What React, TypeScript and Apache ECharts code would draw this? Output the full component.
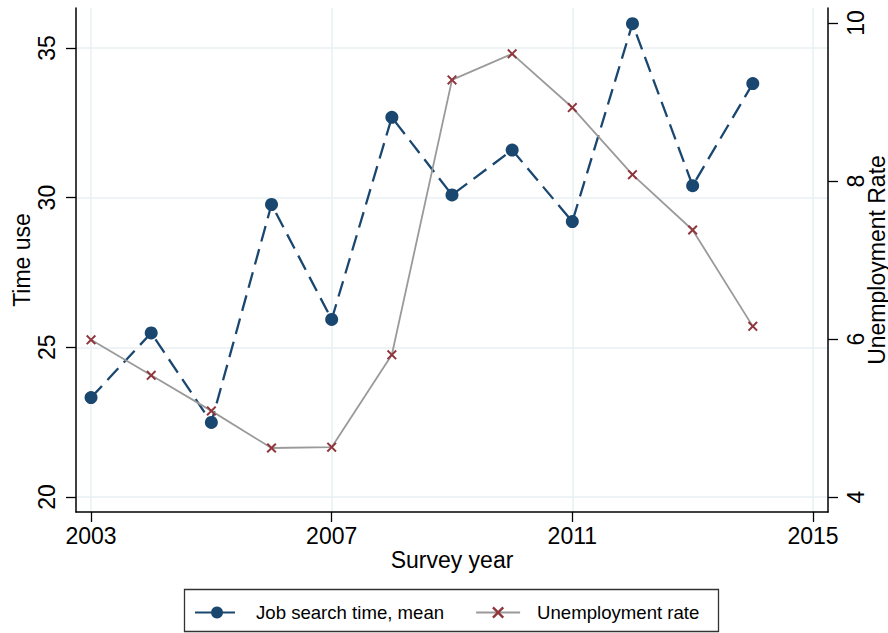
import React, { useEffect, useRef } from "react";
import * as echarts from "echarts";

// Survey years and the two series plotted against them
const years = [2003, 2004, 2005, 2006, 2007, 2008, 2009, 2010, 2011, 2012, 2013, 2014];
const jobSearchMean = [23.32, 25.48, 22.49, 29.77, 25.93, 32.68, 30.09, 31.59, 29.2, 35.81, 30.4, 33.81];
const unemploymentRate = [5.99, 5.54, 5.09, 4.62, 4.63, 5.8, 9.28, 9.61, 8.93, 8.08, 7.38, 6.16];

// Tick labels
const yearTicks = [2003, 2007, 2011, 2015];
const timeUseTicks = [20, 25, 30, 35];
const rateTicks = [4, 6, 8, 10];

const FONT = "'Liberation Sans', Arial, Helvetica, sans-serif";
const NAVY = "#1a476f";
const MAROON = "#90353b";
const GRID = "#e8f0f2";

// Filled "x" marker
const CROSS =
  "path://M0,1.4L1.4,0L5,3.6L8.6,0L10,1.4L6.4,5L10,8.6L8.6,10L5,6.4L1.4,10L0,8.6L3.6,5Z";

export default function App() {
  const ref = useRef<HTMLDivElement>(null);

  useEffect(() => {
    if (!ref.current) return;
    const chart = echarts.init(ref.current, undefined, { renderer: "svg" });

    const axisLine = { show: true, lineStyle: { color: "#000", width: 1.5 } };
    const axisTick = (vals: number[]) => ({
      show: true,
      length: 10,
      lineStyle: { color: "#000", width: 1.3 },
      customValues: vals,
    });

    chart.setOption({
      animation: false,
      backgroundColor: "#fff",
      textStyle: { fontFamily: FONT },
      grid: {
        left: 76,
        right: 60,
        top: 8,
        bottom: 121,
        containLabel: false,
        outerBoundsMode: "none",
      },
      xAxis: {
        type: "value",
        min: 2002.75,
        max: 2015.25,
        name: "Survey year",
        nameLocation: "middle",
        nameGap: 36,
        nameMoveOverlap: false,
        nameTextStyle: { fontSize: 23, color: "#000", fontFamily: FONT },
        axisLine,
        axisTick: axisTick(yearTicks),
        axisLabel: {
          customValues: yearTicks,
          fontSize: 23,
          color: "#000",
          margin: 12,
          fontFamily: FONT,
          formatter: (v: number) => String(v),
        },
        splitLine: { show: true, lineStyle: { color: GRID, width: 1.5 } },
      },
      yAxis: [
        {
          type: "value",
          min: 19.5,
          max: 36.333,
          position: "left",
          name: "Time use",
          nameLocation: "middle",
          nameGap: 43,
          nameRotate: 90,
          nameMoveOverlap: false,
          nameTextStyle: { fontSize: 23, color: "#000", fontFamily: FONT },
          axisLine,
          axisTick: axisTick(timeUseTicks),
          axisLabel: {
            customValues: timeUseTicks,
            rotate: 90,
            fontSize: 23,
            color: "#000",
            margin: 18,
            fontFamily: FONT,
          },
          splitLine: { show: true, lineStyle: { color: GRID, width: 1.5 } },
        },
        {
          type: "value",
          min: 3.81,
          max: 10.19,
          position: "right",
          name: "Unemployment Rate",
          nameLocation: "middle",
          nameGap: 37,
          nameRotate: 90,
          nameMoveOverlap: false,
          nameTextStyle: { fontSize: 23, color: "#000", fontFamily: FONT },
          axisLine,
          axisTick: axisTick(rateTicks),
          axisLabel: {
            customValues: rateTicks,
            rotate: 90,
            fontSize: 23,
            color: "#000",
            margin: 16,
            fontFamily: FONT,
          },
          splitLine: { show: false },
        },
      ],
      legend: {
        left: 194,
        top: 603,
        itemWidth: 44,
        itemHeight: 15,
        itemGap: 31,
        padding: 0,
        textStyle: {
          fontSize: 18.6,
          color: "#000",
          fontFamily: FONT,
          padding: [0, 0, 0, 12],
        },
        data: ["Job search time, mean", "Unemployment rate"],
      },
      graphic: [
        {
          type: "rect",
          shape: { x: 184.5, y: 589.5, width: 534, height: 42 },
          style: { fill: "none", stroke: "#333", lineWidth: 1.3 },
          silent: true,
        },
      ],
      series: [
        {
          name: "Job search time, mean",
          type: "line",
          yAxisIndex: 0,
          data: years.map((y, i) => [y, jobSearchMean[i]]),
          symbol: "circle",
          symbolSize: 13,
          itemStyle: { color: NAVY },
          lineStyle: { color: NAVY, width: 2.3, type: [16, 8] },
        },
        {
          name: "Unemployment rate",
          type: "line",
          yAxisIndex: 1,
          data: years.map((y, i) => [y, unemploymentRate[i]]),
          symbol: CROSS,
          symbolSize: 10,
          itemStyle: { color: MAROON },
          lineStyle: { color: "#9a9a9a", width: 1.8 },
        },
      ],
    });

    return () => chart.dispose();
  }, []);

  return (
    <div
      ref={ref}
      style={{ position: "absolute", left: 0, top: 0, width: 888, height: 633 }}
    />
  );
}
